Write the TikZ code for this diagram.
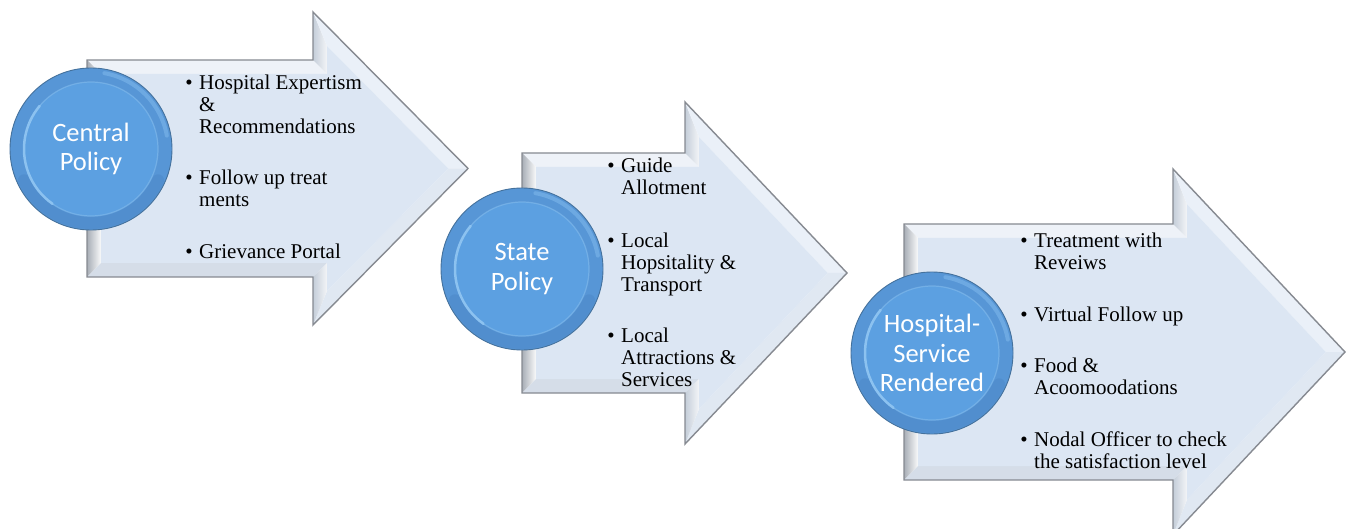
\documentclass[tikz,border=0pt]{standalone}
\usepackage{fontspec}
\setmainfont{Liberation Serif}
\newfontfamily\circfont{Carlito}
\usetikzlibrary{calc}

\definecolor{bvface}{HTML}{DCE6F3}
\definecolor{bvtop}{HTML}{EEF2F8}
\definecolor{bvleft}{HTML}{C6CED9}
\definecolor{bvbot}{HTML}{D5DDE8}
\definecolor{bvnotch}{HTML}{C4CDD9}
\definecolor{bvdiagU}{HTML}{EAF0F8}
\definecolor{bvdiagL}{HTML}{E0E8F2}
\definecolor{bvline}{HTML}{868A91}
\definecolor{ringblue}{HTML}{5796D6}
\definecolor{ringdark}{HTML}{4A86C6}
\definecolor{discblue}{HTML}{5CA0E1}
\definecolor{rimblue}{HTML}{8CC2F0}
\definecolor{glowblue}{HTML}{7DB6EA}
\definecolor{edgeblue}{HTML}{44719C}

% #1 L, #2 T, #3 B, #4 head x, #5 head top, #6 tip x, #7 bevel width
\newcommand\bevarrow[7]{%
 \pgfmathsetmacro\bvY{(#2+#3)/2}%
 \pgfmathsetmacro\bvHB{2*\bvY-#5}%
 \pgfmathsetmacro\bvA{(#6-#4)/100}%
 \pgfmathsetmacro\bvB{(\bvY-#5)/100}%
 \pgfmathsetmacro\bvLen{sqrt(\bvA*\bvA+\bvB*\bvB)}%
 \pgfmathsetmacro\bvIX{#6-#7*\bvLen/\bvB}%
 \pgfmathsetmacro\bvIHT{#5+#7*(\bvB+\bvLen)/\bvA}%
 \pgfmathsetmacro\bvIHB{2*\bvY-\bvIHT}%
 \pgfmathsetmacro\bvIL{#1+#7}%
 \pgfmathsetmacro\bvIT{#2+#7}%
 \pgfmathsetmacro\bvIB{#3-#7}%
 \pgfmathsetmacro\bvIH{#4+#7}%
 \fill[bvtop] (#1,#2) -- (#4,#2) -- (\bvIH,\bvIT) -- (\bvIL,\bvIT) -- cycle;
 \shade[left color=bvleft!80!black!90, right color=white!90!bvleft] (#1,#2) -- (\bvIL,\bvIT) -- (\bvIL,\bvIB) -- (#1,#3) -- cycle;
 \fill[bvbot] (#1,#3) -- (\bvIL,\bvIB) -- (\bvIH,\bvIB) -- (#4,#3) -- cycle;
 \shade[left color=bvnotch, right color=white!80!bvnotch] (#4,#2) -- (#4,#5) -- (\bvIH,\bvIHT) -- (\bvIH,\bvIT) -- cycle;
 \fill[bvdiagU] (#4,#5) -- (#6,\bvY) -- (\bvIX,\bvY) -- (\bvIH,\bvIHT) -- cycle;
 \fill[bvdiagL] (#6,\bvY) -- (#4,\bvHB) -- (\bvIH,\bvIHB) -- (\bvIX,\bvY) -- cycle;
 \shade[left color=bvnotch, right color=white!80!bvnotch] (#4,\bvHB) -- (#4,#3) -- (\bvIH,\bvIB) -- (\bvIH,\bvIHB) -- cycle;
 \fill[bvface] (\bvIL,\bvIT) -- (\bvIH,\bvIT) -- (\bvIH,\bvIHT) -- (\bvIX,\bvY) -- (\bvIH,\bvIHB) -- (\bvIH,\bvIB) -- (\bvIL,\bvIB) -- cycle;
 \draw[bvline, line width=1.4pt, line join=miter] (#1,#2) -- (#4,#2) -- (#4,#5) -- (#6,\bvY) -- (#4,\bvHB) -- (#4,#3) -- (#1,#3) -- cycle;
}

% y axis points down, so angle 90 is the bottom of a circle
\newcommand\policydisc[1]{%
 \fill[ringblue] (#1) circle (81pt);
 \draw[ringdark, line width=12pt, opacity=0.45, line cap=round] (#1) ++(205:74pt) arc[start angle=205, end angle=335, radius=74pt];
 \draw[glowblue, line width=4pt, opacity=0.6, line cap=round] (#1) ++(10:77pt) arc[start angle=10, end angle=80, radius=77pt];
 \fill[discblue] (#1) circle (67pt);
 \draw[rimblue, line width=1.2pt, opacity=0.5] (#1) circle (67pt);
 \draw[rimblue, line width=2.5pt, line cap=round] (#1) ++(140:67pt) arc[start angle=140, end angle=235, radius=67pt];
 \draw[edgeblue, line width=0.9pt] (#1) circle (81pt);
}

\begin{document}
\begin{tikzpicture}[x=1pt, y=-1pt,
  itemtext/.style={anchor=base west, align=left, inner sep=0pt, text=black,
    font=\fontsize{21}{22}\selectfont},
  circtext/.style={text=white, align=center, inner sep=0pt,
    font=\circfont\fontsize{26.5}{29.5}\selectfont}]
\useasboundingbox (0,0) rectangle (1346,529);
\fill[white] (0,0) rectangle (1346,529);

\newcommand\bul{\llap{\textbullet\hskip 6.5pt}}

% arrow 1 (item nodes are anchored at the baseline of their last line)
\bevarrow{87}{60}{277}{313}{12}{468}{14}
\coordinate (c1) at (91,149);
\policydisc{c1}
\node[circtext] (p1) at (c1) {Central\\Policy};
\node[itemtext] (a1) at (199,133.3) {\bul Hospital Expertism\\\&\\Recommendations};
\node[itemtext] (a2) at (199,206.7) {\bul Follow up treat\\ments};
\node[itemtext] (a3) at (199,259) {\bul Grievance Portal};

% arrow 2
\bevarrow{522}{153}{393}{685}{102}{847}{14}
\coordinate (c2) at (522,269);
\policydisc{c2}
\node[circtext] (p2) at (c2) {State\\Policy};
\node[itemtext] (b1) at (621,195) {\bul Guide\\Allotment};
\node[itemtext] (b2) at (621,291) {\bul Local\\Hopsitality \&\\Transport};
\node[itemtext] (b3) at (621,386.5) {\bul Local\\Attractions \&\\Services};

% arrow 3
\bevarrow{904}{224}{480}{1173}{169}{1345}{14}
\coordinate (c3) at (932,353);
\policydisc{c3}
\node[circtext] (p3) at (c3) {Hospital-\\Service\\Rendered};
\node[itemtext] (d1) at (1034,270) {\bul Treatment with\\Reveiws};
\node[itemtext] (d2) at (1034,321.7) {\bul Virtual Follow up};
\node[itemtext] (d3) at (1034,394.3) {\bul Food \&\\Acoomoodations};
\node[itemtext] (d4) at (1034,468.3) {\bul Nodal Officer to check\\the satisfaction level};
\end{tikzpicture}
\end{document}
